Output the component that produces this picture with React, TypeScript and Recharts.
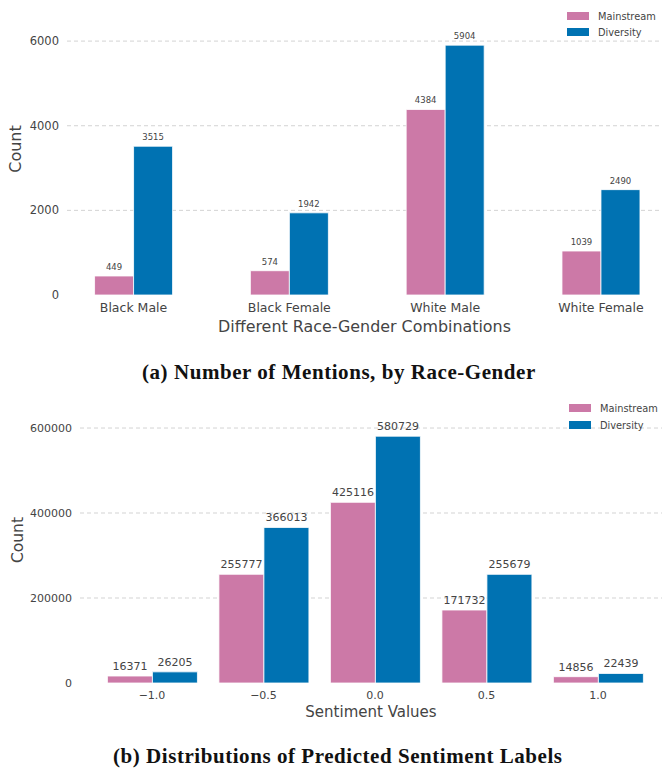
import React from "react"
import { BarChart, Bar, XAxis, YAxis, CartesianGrid, Legend, LabelList } from "recharts"

// (a) mentions by race-gender
const raceGender = ["Black Male", "Black Female", "White Male", "White Female"]
const mentionsMainstream = [449, 574, 4384, 1039]
const mentionsDiversity = [3515, 1942, 5904, 2490]
const mentionTicks = [0, 2000, 4000, 6000]

// (b) predicted sentiment labels
const sentimentValues = [-1, -0.5, 0, 0.5, 1]
const sentimentMainstream = [16371, 255777, 425116, 171732, 14856]
const sentimentDiversity = [26205, 366013, 580729, 255679, 22439]
const sentimentTicks = [0, 200000, 400000, 600000]

const PINK = "#CC79A7"
const BLUE = "#0072B2"
const TEXT = "#444444"
const FONT = "'DejaVu Sans', sans-serif"

const mentionData = raceGender.map((name, i) => ({
  idx: i,
  name,
  mainstream: mentionsMainstream[i],
  diversity: mentionsDiversity[i],
}))

const sentimentData = sentimentValues.map((v, i) => ({
  value: v,
  mainstream: sentimentMainstream[i],
  diversity: sentimentDiversity[i],
}))

const fmtSentiment = (v: number) => (v < 0 ? "\u2212" : "") + Math.abs(v).toFixed(1)

function LegendBox({ rowHeight }: { rowHeight: number }) {
  const items = [
    { label: "Mainstream", color: PINK },
    { label: "Diversity", color: BLUE },
  ]
  return (
    <div style={{ fontFamily: FONT, fontSize: 9.8, color: TEXT }}>
      {items.map((it) => (
        <div key={it.label} style={{ display: "flex", alignItems: "center", height: rowHeight }}>
          <span style={{ display: "inline-block", width: 22, height: 8, background: it.color, marginRight: 9 }} />
          <span>{it.label}</span>
        </div>
      ))}
    </div>
  )
}

const captionStyle: React.CSSProperties = {
  position: "absolute",
  fontFamily: "'Liberation Serif', serif",
  fontWeight: "bold",
  fontSize: 21,
  letterSpacing: 0.55,
  color: "#111",
  whiteSpace: "nowrap",
  lineHeight: "24px",
}

export default function App() {
  return (
    <div style={{ position: "absolute", left: 0, top: 0, width: 662, height: 769, background: "#fff", fontFamily: FONT, overflow: "hidden" }}>
      <div style={{ position: "absolute", left: 0, top: 0 }}>
        <BarChart
          width={662}
          height={345}
          data={mentionData}
          margin={{ top: 3, right: 0, bottom: 0, left: 0 }}
          barGap={0}
          barCategoryGap="25%"
        >
          <CartesianGrid vertical={false} horizontalValues={[2000, 4000, 6000]} stroke="#c8c8c8" strokeDasharray="4 3" strokeWidth={0.8} />
          <XAxis
            dataKey="idx"
            type="number"
            domain={[-0.427, 3.392]}
            allowDataOverflow
            ticks={[0, 1, 2, 3]}
            tickFormatter={(i: number) => raceGender[i]}
            axisLine={false}
            tickLine={false}
            tickSize={0}
            tickMargin={8.6}
            height={50}
            tick={{ fontSize: 12.5, fill: TEXT }}
            label={{ value: "Different Race-Gender Combinations", position: "insideBottom", offset: 13, fontSize: 15.9, fill: TEXT }}
          />
          <YAxis
            type="number"
            domain={[0, 6900]}
            allowDataOverflow
            ticks={mentionTicks}
            width={67}
            axisLine={false}
            tickLine={false}
            tickSize={0}
            tickMargin={8}
            tick={{ fontSize: 11.5, fill: TEXT }}
            label={{ value: "Count", angle: -90, position: "insideLeft", offset: 15, fontSize: 16, fill: TEXT, style: { textAnchor: "middle" } }}
          />
          <Legend
            layout="vertical"
            verticalAlign="middle"
            align="center"
            wrapperStyle={{ left: 567, top: 8, width: 95 }}
            content={() => <LegendBox rowHeight={16} />}
          />
          <Bar dataKey="mainstream" fill={PINK} stroke="#ffffff" strokeWidth={0.8} isAnimationActive={false}>
            <LabelList dataKey="mainstream" position="top" offset={6} fontSize={8.5} fill={TEXT} />
          </Bar>
          <Bar dataKey="diversity" fill={BLUE} stroke="#ffffff" strokeWidth={0.8} isAnimationActive={false}>
            <LabelList dataKey="diversity" position="top" offset={6} fontSize={8.5} fill={TEXT} />
          </Bar>
        </BarChart>
      </div>
      <div style={{ ...captionStyle, left: 142, top: 360 }}>(a) Number of Mentions, by Race-Gender</div>

      <div style={{ position: "absolute", left: 0, top: 385 }}>
        <BarChart
          width={662}
          height={348}
          data={sentimentData}
          margin={{ top: 12, right: 0, bottom: 0, left: 0 }}
          barGap={0}
          barCategoryGap="10%"
        >
          <CartesianGrid vertical={false} horizontalValues={[200000, 400000, 600000]} stroke="#c8c8c8" strokeDasharray="4 3" strokeWidth={0.8} />
          <XAxis
            dataKey="value"
            type="number"
            domain={[-1.323, 1.287]}
            allowDataOverflow
            ticks={sentimentValues}
            tickFormatter={fmtSentiment}
            axisLine={false}
            tickLine={false}
            tickSize={0}
            tickMargin={8.2}
            height={50}
            tick={{ fontSize: 11, fill: TEXT }}
            label={{ value: "Sentiment Values", position: "insideBottom", offset: 16, fontSize: 15, fill: TEXT }}
          />
          <YAxis
            type="number"
            domain={[0, 673000]}
            allowDataOverflow
            ticks={sentimentTicks}
            width={80}
            axisLine={false}
            tickLine={false}
            tickSize={0}
            tickMargin={8}
            tick={{ fontSize: 11, fill: TEXT }}
            label={{ value: "Count", angle: -90, position: "insideLeft", offset: 17, fontSize: 15.5, fill: TEXT, style: { textAnchor: "middle" } }}
          />
          <Legend
            layout="vertical"
            verticalAlign="middle"
            align="center"
            wrapperStyle={{ left: 569, top: 14.5, width: 93 }}
            content={() => <LegendBox rowHeight={17} />}
          />
          <Bar dataKey="mainstream" fill={PINK} stroke="#ffffff" strokeWidth={0.8} isAnimationActive={false}>
            <LabelList dataKey="mainstream" position="top" offset={6} fontSize={11} fill={TEXT} />
          </Bar>
          <Bar dataKey="diversity" fill={BLUE} stroke="#ffffff" strokeWidth={0.8} isAnimationActive={false}>
            <LabelList dataKey="diversity" position="top" offset={6} fontSize={11} fill={TEXT} />
          </Bar>
        </BarChart>
      </div>
      <div style={{ ...captionStyle, left: 113, top: 744 }}>(b) Distributions of Predicted Sentiment Labels</div>
    </div>
  )
}
